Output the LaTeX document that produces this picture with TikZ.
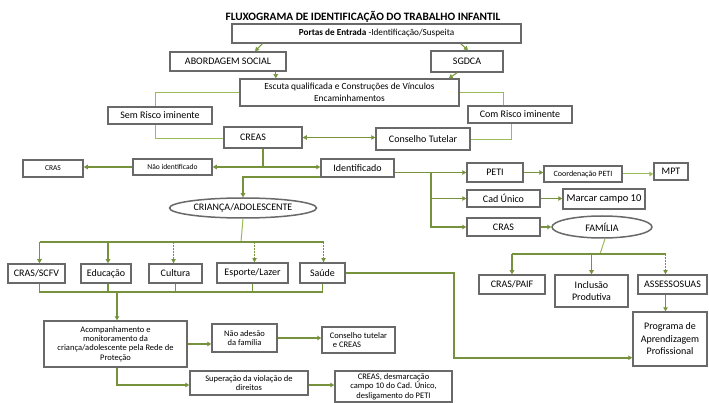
\documentclass[tikz,border=0pt]{standalone}
\usepackage{fontspec}
\setmainfont{Carlito}
\usetikzlibrary{arrows.meta,calc,shapes.geometric}
\definecolor{gdark}{RGB}{118,146,60}
\definecolor{glight}{RGB}{155,187,89}
\definecolor{bgray}{RGB}{105,105,105}
\tikzset{
  box/.style={draw=bgray, line width=1.5pt, fill=white, inner sep=0pt, align=center, font=\fontsize{10}{12.5}\selectfont},
  ell/.style={ellipse, draw=bgray, line width=1.5pt, fill=white, inner sep=0pt, font=\fontsize{10}{12}\selectfont},
  sm/.style={font=\fontsize{7.5}{9}\selectfont},
  md/.style={font=\fontsize{8.5}{9.4}\selectfont},
  tip/.style={-{Triangle[length=4pt,width=4.5pt]}},
  thk/.style={draw=gdark, line width=1.9pt},
  thn/.style={draw=glight, line width=1pt},
  arr/.style={thk, tip},
  darr/.style={draw=gdark, line width=1.9pt, dash pattern=on 1.6pt off 1.4pt, -{Triangle[length=4pt,width=4.5pt,line width=0pt]}},
  tarr/.style={draw=gdark!85!glight, line width=1.1pt, tip},
}
\begin{document}
\begin{tikzpicture}[x=1pt,y=-1pt]
\useasboundingbox (0,0) rectangle (709,403);
\fill[white] (0,0) rectangle (709,403);

\node[font=\fontsize{11.3}{13}\selectfont\bfseries] (title) at (363,17) {FLUXOGRAMA DE IDENTIFICAÇÃO DO TRABALHO INFANTIL};

\node[box, font=\fontsize{9.2}{11}\selectfont, minimum width=289pt, minimum height=19pt] (portas) at (376.5,33.5) {\textbf{Portas de Entrada} -Identificação/Suspeita};
\node[box, minimum width=116pt, minimum height=19pt] (abord) at (228,61.5) {ABORDAGEM SOCIAL};
\node[box, minimum width=72pt, minimum height=21pt] (sgdca) at (467,61.5) {SGDCA};
\node[box, font=\fontsize{9.4}{11.5}\selectfont, minimum width=219pt, minimum height=27pt] (escuta) at (349.5,92.5) {Escuta qualificada e Construções de Vínculos\\Encaminhamentos};
\node[box, minimum width=104pt, minimum height=17pt] (semrisco) at (160,115.5) {Sem Risco iminente};
\node[box, minimum width=104pt, minimum height=17pt] (comrisco) at (520,114.5) {Com Risco iminente};
\node[box, minimum width=78pt, minimum height=21pt] (creas) at (263,137.5) {CREAS\hspace*{20pt}};
\node[box, minimum width=94pt, minimum height=22pt] (conselho) at (423,139) {Conselho Tutelar};
\node[box, sm, minimum width=79pt, minimum height=16pt] (naoid) at (172.5,167) {Não identificado};
\node[box, sm, minimum width=60pt, minimum height=17pt] (crasL) at (53,168.5) {CRAS};
\node[box, minimum width=73pt, minimum height=18pt] (ident) at (357.5,168) {Identificado};
\node[ell, minimum width=147pt, minimum height=20pt] (crianca) at (243,208) {CRIANÇA/ADOLESCENTE};

\node[box, minimum width=56pt, minimum height=19pt] (peti) at (495,172.5) {PETI};
\node[box, minimum width=73pt, minimum height=17pt] (cad) at (503.5,198.5) {Cad Único};
\node[box, minimum width=73pt, minimum height=18pt] (crasR) at (503.5,227) {CRAS};
\node[box, font=\fontsize{8}{9}\selectfont, minimum width=78pt, minimum height=16pt] (coord) at (583,174) {Coordenação PETI};
\node[box, minimum width=34pt, minimum height=17pt] (mpt) at (671,171.5) {MPT};
\node[box, font=\fontsize{10.5}{12}\selectfont, minimum width=82pt, minimum height=20pt] (marcar) at (604,199) {Marcar campo 10};
\node[ell, minimum width=100pt, minimum height=22pt] (familia) at (602,227) {FAMÍLIA};

\node[box, minimum width=66pt, minimum height=19pt] (craspaif) at (512,284.5) {CRAS/PAIF};
\node[box, minimum width=73pt, minimum height=32pt] (inclusao) at (591.5,291) {Inclusão\\Produtiva};
\node[box, minimum width=69pt, minimum height=19pt] (assesso) at (672.5,284.5) {ASSESSOSUAS};
\node[box, minimum width=74pt, minimum height=54pt] (programa) at (670,339) {Programa de\\Aprendizagem\\Profissional};

\node[box, minimum width=57pt, minimum height=19pt] (crasscfv) at (36.5,273.5) {CRAS/SCFV};
\node[box, minimum width=50pt, minimum height=19pt] (educ) at (106,273.5) {Educação};
\node[box, minimum width=53pt, minimum height=19pt] (cultura) at (175.5,273.5) {Cultura};
\node[box, minimum width=71pt, minimum height=20pt] (esporte) at (252.5,273) {Esporte/Lazer};
\node[box, minimum width=45pt, minimum height=20pt] (saude) at (322.5,273) {Saúde};

\node[box, md, minimum width=143pt, minimum height=46pt] (acomp) at (115.5,344) {Acompanhamento e\\monitoramento da\\criança/adolescente pela Rede de\\Proteção};
\node[box, md, minimum width=65pt, minimum height=28pt] (naoades) at (244.5,338) {Não adesão\\da família};
\node[box, md, align=left, minimum width=73pt, minimum height=26pt] (conselho2) at (358.5,340) {Conselho tutelar\\\hspace*{3pt}e CREAS};
\node[box, md, minimum width=118pt, minimum height=24pt] (superacao) at (249,383) {Superação da violação de\\direitos};
\node[box, md, minimum width=117pt, minimum height=31pt] (creas2) at (393.5,386.5) {CREAS, desmarcação\\campo 10 do Cad. Único,\\desligamento do PETI};

% top connectors
\draw[tarr] ($(portas.south west)+(31,0)$) -- ($(abord.north)+(27,0)$);
\draw[tarr] ($(portas.south east)+(-61,0)$) -- ($(sgdca.north)+(1,0)$);
\coordinate (a1) at ($(abord.south east)+(-11,0)$);
\draw[tarr] (a1) -- (a1 |- escuta.north);
\draw[tarr] ($(sgdca.south west)+(27,0)$) -- ($(escuta.north east)+(-11,0)$);
\coordinate (sr) at ($(semrisco.north)+(-5,0)$);
\draw[thn] (escuta.west) -| (sr);
\coordinate (cr) at ($(comrisco.north)+(-17,0)$);
\draw[thn] (escuta.east) -| (cr);
\draw[thn] ($(semrisco.south)+(-5,0)$) |- ($(creas.west)+(0,1.5)$);
\draw[thn] ($(comrisco.south)+(-9,0)$) |- ($(conselho.east)+(0,1)$);
\draw[thk, {Triangle[length=4pt,width=4.5pt]}-{Triangle[length=4pt,width=4.5pt]}] (creas.east) -- (creas.east -| conselho.west);

% CREAS split
\coordinate (cs) at (creas.south |- naoid.east);
\draw[thk] (creas.south) -- (cs);
\draw[arr] (cs) -- (naoid.east);
\draw[arr] (cs) -- (ident.west |- cs);
\draw[arr] (naoid.west) -- (naoid.west -| crasL.east);
\draw[arr] ($(ident.south west)+(0,-1)$) -| (crianca.north);

% Identificado branch
\coordinate (br) at ($(ident.east)+(36,0)$);
\draw[arr] (ident.east |- peti.west) -- (peti.west);
\draw[arr] (br |- peti.west) |- (cad.west);
\draw[arr] (br |- peti.west) |- (crasR.west);
\draw[arr] (peti.east) -- (peti.east -| coord.west);
\draw[thn, tip] (coord.east) -- (coord.east -| mpt.west);
\draw[arr] (cad.east) -- (cad.east -| marcar.west);
\draw[arr] (crasR.east) -- (familia.west);

% Familia branch
\coordinate (fb) at (600,254);
\coordinate (asx) at ($(assesso.north)+(-7,0)$);
\draw[thn] ($(familia.south)+(3,0)$) -- (fb);
\draw[thk] (craspaif.north |- fb) -- (asx |- fb);
\draw[arr] (craspaif.north |- fb) -- (craspaif.north);
\draw[arr] (inclusao.north |- fb) -- (inclusao.north);
\draw[darr] (asx |- fb) -- (asx);
\coordinate (asy) at ($(assesso.south)+(-7,0)$);
\draw[arr] (asy) -- (asy |- programa.north);

% Crianca row
\coordinate (cb) at (241,242);
\draw[thn] (crianca.south) -- (cb);
\draw[thk] ($(crasscfv.north |- cb)+(3,0)$) -- ($(saude.north |- cb)+(1,0)$);
\draw[arr] ($(crasscfv.north |- cb)+(3,0)$) -- ($(crasscfv.north)+(3,0)$);
\draw[arr] ($(educ.north |- cb)+(2,0)$) -- ($(educ.north)+(2,0)$);
\draw[darr] ($(cultura.north |- cb)+(-2,0)$) -- ($(cultura.north)+(-2,0)$);
\draw[darr] ($(esporte.north |- cb)+(2,0)$) -- ($(esporte.north)+(2,0)$);
\draw[darr] ($(saude.north |- cb)+(1,0)$) -- ($(saude.north)+(1,0)$);

% merge
\coordinate (mb) at (117,292);
\draw[thk] ($(crasscfv.south)+(3,0)$) |- (saude.south |- mb) -- (saude.south);
\draw[thk] ($(educ.south)+(2,0)$) -- ($(educ.south |- mb)+(2,0)$);
\draw[thk] (cultura.south) -- (cultura.south |- mb);
\draw[thk] (esporte.south) -- (esporte.south |- mb);
\draw[arr] (mb) -- (mb |- acomp.north);

% Saude to Programa
\draw[arr] (saude.east) -- ++(108,0) |- ($(programa.south west)+(0,-9)$);

% bottom
\draw[arr] (acomp.east) -- (acomp.east -| naoades.west);
\draw[arr] (naoades.east) -- (naoades.east -| conselho2.west);
\draw[arr] ($(acomp.south)+(1.5,0)$) |- ($(superacao.west)+(0,2)$);
\draw[arr] ($(superacao.east)+(0,2)$) -- ($(superacao.east -| creas2.west)+(0,2)$);
\end{tikzpicture}
\end{document}
